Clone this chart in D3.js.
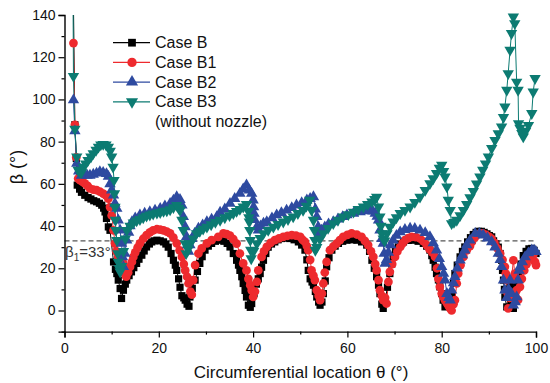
<!DOCTYPE html>
<html><head><meta charset="utf-8">
<script src="https://cdn.jsdelivr.net/npm/d3@7"></script>
<style>
html,body{margin:0;padding:0;background:#fff;}
text{font-family:"Liberation Sans",Arial,sans-serif;}
</style></head>
<body><svg id="c" width="550" height="383"></svg>
<script>
// ---- data ----
const thetaB=[1.9,2.2,2.5,2.7,3.2,3.6,4.3,5.0,5.6,6.2,6.8,7.4,7.9,8.3,8.6,8.9,9.3,9.65,10.4,10.8,11.1,11.4,11.8,12.1,12.5,12.9,13.2,13.7,14.2,14.7,15.3,15.8,16.4,16.9,17.4,18.0,18.5,19.0,19.6,20.3,21.0,21.5,22.0,22.6,23.1,23.5,23.8,24.2,24.5,24.9,25.3,25.6,26.0,26.4,26.6,27.1,27.7,28.2,28.7,29.2,29.8,30.5,31.2,32.0,33.0,33.8,34.5,35.1,35.8,36.5,36.9,37.2,37.6,37.9,38.3,38.6,39.0,39.4,39.7,40.2,40.7,41.1,41.5,41.8,42.2,42.7,43.2,43.9,44.6,45.3,46.0,46.9,47.8,48.7,49.6,50.3,51.0,51.4,51.7,52.1,52.5,52.8,53.2,53.5,53.9,54.2,54.6,54.9,55.3,55.6,56.1,56.7,57.4,58.1,59.0,59.9,61.0,62.0,63.0,64.1,64.7,65.2,65.7,66.2,66.6,66.9,67.3,67.6,68.0,68.5,69.0,69.4,69.7,70.2,70.8,71.3,71.9,72.9,74.0,75.0,76.1,76.8,77.5,77.9,78.2,78.6,78.9,79.3,79.6,80.0,80.3,80.7,81.1,81.5,81.8,82.1,82.5,82.8,83.3,83.9,84.4,84.9,85.5,86.1,86.7,87.3,87.8,88.4,89.0,89.6,90.1,90.6,91.0,91.5,92.0,92.4,92.7,92.9,93.1,93.3,93.4,93.8,94.2,94.5,94.8,95.2,95.6,95.9,96.3,96.8,97.3,97.9,98.5,99.1,99.6,100];
const betaB=[145,88,72,59.4,57.5,56,54.6,53.5,52.8,52,51.5,50.8,49.9,48.5,46.7,43.6,39.6,38,23,19.5,17.5,14.4,10.4,5.7,9.6,12.5,14.4,16.5,18.3,20.3,22.3,24.3,26.2,28.2,30.1,31.5,32.5,33,33.3,33,32.5,31.5,30,27,23.8,21.5,19,15,11,7,6,4.9,3,2,6.4,10.5,14.4,18.5,22.3,25.5,28.6,30.5,31.8,32.8,33.3,32.8,31.8,30.1,27,23.8,21.5,19,16,12.8,9.5,6.4,2.5,1.5,3.3,8,12.5,15,17.5,20.5,23.8,27,30,31.5,32.5,33.5,34.1,34.3,34.1,33.5,32.5,31,28.6,24,19,15,13.5,12,9,6.4,4,2.5,4,8,14,20.7,25,28.6,30.5,31.8,32.8,33.3,33.5,33.3,32.5,31,28,23.8,20,16,12,8,3,1,5,11,17.5,22,25.4,28,30.1,31.5,32.5,33.2,33.3,32.8,31.8,30.5,28.6,26,23.8,20.5,17.5,14.5,11.2,8,4.9,1.7,3,2,5,8,13,17.5,21.5,25.4,28,30.1,32.5,34.5,36,37,37.5,37.5,37,36.3,35.5,34.9,33,31.5,30,27,23.8,19,14.4,10,6.4,1.7,8,12,4,1,6,12,16,22,26,28,29.2,29.4,28.5,27];

const thetaB1=[1.9,2.2,2.5,2.9,3.3,3.8,4.3,4.9,5.4,6.1,6.8,7.5,8.2,8.8,9.3,9.65,10.0,10.4,10.7,11.0,11.4,11.9,12.5,12.8,13.1,13.5,13.9,14.3,14.6,15.0,15.5,16.0,16.7,17.4,18.1,18.8,19.6,20.3,21.0,21.7,22.4,23.1,23.8,24.4,24.9,25.3,25.6,26.0,26.3,26.7,27.0,27.3,27.7,28.4,29.1,30.2,31.2,32.6,33.7,34.4,35.1,35.8,36.5,37.2,37.9,38.6,39.0,39.4,39.7,40.0,40.4,40.8,41.1,41.8,42.3,42.9,43.7,44.6,45.5,46.4,47.3,48.2,49.1,50.0,50.5,51.0,51.4,51.7,52.1,52.4,52.8,53.1,53.5,53.9,54.2,54.6,54.9,55.2,55.6,56.3,57.0,57.7,58.4,59.1,60.0,60.9,62.0,63.0,63.7,64.4,65.0,65.5,65.9,66.2,66.6,66.9,67.3,67.6,68.0,68.3,68.7,69.0,69.5,70.1,70.6,71.2,71.7,72.2,72.9,73.6,74.5,75.4,76.1,76.8,77.4,78.0,78.6,79.0,79.3,79.6,80.0,80.3,80.7,81.1,81.5,81.8,82.1,82.5,82.8,83.2,83.5,84.0,84.6,85.3,86.0,86.4,87.0,87.5,88.1,88.7,89.4,90.0,90.6,91.2,91.8,92.4,92.9,93.4,93.6,93.8,94.0,94.1,94.5,94.8,95.2,95.5,95.9,96.2,96.6,97.0,97.5,98.0,98.6,99.1,99.4,99.8,100];
const betaB1=[126.7,88,72.5,62.5,61.7,61,60.2,59,57.8,57.3,57,56.3,55.4,54.5,53,49,45,38,31.7,28,25.4,23.5,22.3,17.5,16,18,20.7,23,25.4,27.5,29.8,31.8,34,35.7,37,38,38.5,38.3,38,37.4,36.5,34.5,31.8,28.5,25.4,22,19,16,12.8,9,7.5,14.4,21.5,27,29.4,31.8,33.3,34.9,36.5,36.2,35.5,33.8,31.7,27,22.3,19,15,12,9.6,6.4,9,13.6,19,25.4,28,30.1,32,33.3,34.2,34.9,35.4,35.7,35.5,34.9,33.5,32.5,30.5,28.6,24,19,16.5,14.4,9.6,7,4.9,8,12.8,18,23,28.6,30.3,31.7,33.3,34.9,35.8,36.5,36,34.9,33,31,28,25.4,22,19,14.4,9.6,7,4.9,6,3.3,13.6,18.3,22,25.4,28,30.1,31.8,33.3,34.3,34.9,34.8,34.1,32.8,31,29,27.5,25.4,20,15,11.2,8,6.5,4.9,3.5,2,1,0,3,4.9,12.8,17.5,21.5,25.4,28.5,30.5,32.5,34.5,35.8,36.5,36.5,35.8,35,34,32,29.5,27,24,20.7,17.5,14.4,8,1,6,15,23.8,17.5,9.6,5,11.2,15,19,22,24.5,25.8,26.2,23,21.5];

const thetaB2=[1.9,2.2,2.6,3.0,3.6,4.2,4.8,5.4,6.1,6.8,7.5,8.2,8.9,9.3,9.65,10.0,10.4,10.7,11.1,11.4,11.8,12.1,12.3,12.5,12.8,13.2,13.6,13.9,14.3,15.0,16.0,17.0,18.1,19.2,20.3,21.3,22.4,23.1,23.8,24.5,24.9,25.2,25.6,25.9,26.1,26.3,26.6,27.0,27.6,28.4,29.3,30.2,31.2,32.3,33.0,34.0,35.1,36.1,37.2,37.9,38.6,39.2,39.7,40.0,40.1,40.2,40.3,40.8,41.1,41.6,42.2,42.9,44.0,45.0,46.0,47.1,48.2,49.2,50.3,51.4,52.1,52.8,53.2,53.5,53.8,54.0,54.5,55.2,56.0,57.0,58.0,59.0,59.9,61.3,62.7,63.8,64.8,65.4,65.9,66.3,66.6,66.9,67.3,67.6,67.8,68.0,68.3,68.7,69.2,69.7,70.4,71.2,72.2,73.3,74.3,75.4,76.5,77.5,78.2,78.9,79.5,80.0,80.4,80.7,81.1,81.5,81.8,82.1,82.5,82.8,83.3,83.9,84.4,84.9,85.3,86.0,87.1,88.0,88.8,89.7,90.6,91.3,92.0,92.4,92.7,93.1,93.4,93.8,94.2,94.5,94.8,95.2,95.6,95.9,96.2,96.4,96.6,97.1,97.7,98.4,99.1,99.6,100];
const betaB2=[99.7,85,69.7,66,64,64.3,64,64,64.5,65,65.7,65.3,64.8,63.5,60,57,54.6,50.7,48.3,42.8,38,31.7,25.4,20.7,27,33.3,37,40,42,43.8,45.2,46,46.7,47.5,48.3,49.5,50.7,52.2,53.8,52.5,49.9,44.4,39.6,34.9,31,28,31,34,36.5,38.9,40.5,42,43.2,44.4,46.5,48,50.7,53,55.4,57.5,59.4,57,55.4,52.3,49,46,43,39.6,38,40,41.3,42,43.8,45.2,46.3,47.5,48.7,49.9,51,52.3,53,53.8,48,44.4,39.6,36.5,38,39.5,41,42,43.3,44.4,45.2,46,46.7,47.2,47.5,47,46,44.5,42.8,38,34,31.7,27,22.3,24,27.5,31,33.3,35.5,37.2,38.3,38.9,38.8,38,36.8,34.9,32,28.6,24.5,20.7,17.5,14.4,8,6,4.9,9.6,13,16,20,23.8,26.3,28.6,31,33.3,36.5,36.5,35.7,34.3,32.5,30,27,24,20.7,14.4,9.6,6,10,14.4,8,2.5,4,6.4,14.4,19,20.7,23,25.4,27.2,28.6,28.5,27.8];

const thetaB3=[1.8,1.9,2.2,2.6,2.9,3.3,3.6,4.0,4.5,5.0,5.6,6.1,6.7,7.2,7.7,8.2,8.8,9.3,9.7,10.0,10.3,10.5,10.6,10.7,10.8,10.9,11.1,11.3,11.4,11.6,11.8,12.1,12.5,12.9,13.2,13.9,14.6,15.3,16.0,16.7,17.4,18.1,18.8,19.6,20.3,21.0,21.7,22.4,23.1,23.8,24.2,24.5,24.9,25.2,25.6,25.8,26.2,26.6,27.3,28.0,28.7,29.4,30.2,31.1,32.0,33.0,34.0,35.0,35.8,36.5,37.2,37.9,38.6,39.0,39.1,39.2,39.3,39.4,39.5,39.6,40.1,40.8,41.5,42.2,43.2,44.3,45.3,46.4,47.4,48.5,49.5,50.6,51.3,52.0,52.4,52.8,53.0,53.1,53.2,53.5,54.2,54.9,55.9,57.0,58.0,59.1,60.2,61.3,62.3,63.4,64.3,65.2,65.8,66.2,66.6,66.9,67.1,67.3,67.6,67.9,68.4,69.0,69.7,70.4,71.2,72.2,73.3,74.3,75.4,76.5,77.5,78.2,78.9,79.5,80.0,80.4,80.7,81.1,81.4,81.8,82.1,82.6,83.2,83.9,84.6,85.3,86.0,86.7,87.4,88.1,88.7,89.3,89.9,90.6,91.3,92.0,92.7,93.1,93.4,93.8,94.1,94.5,94.8,95.2,95.5,95.9,96.2,96.3,96.6,97.0,97.3,97.8,98.4,99.1,99.4,99.8];
const betaB3=[152,111,86,72.8,66.5,65.5,65.5,68,69.5,71.2,72.8,74.4,76,77.5,78.5,78.8,78.5,77.5,75.5,72.8,68,61.7,55.4,49,42.8,38,33.3,27,23,20,18.3,21,28,34,38,40,41.5,42.5,43.2,44,44.8,45.3,45.8,46.2,46.5,47,47.3,47.8,48.8,49.9,48.5,47.5,42.8,38,31.7,27,29,31.7,34,36.5,37.6,38.6,39.6,40.7,41.8,42.8,44,45,46,47,48,49.1,50.3,47,44,42,38,33.3,28.6,24.6,28,31.7,34.2,36.5,38,39.6,40.8,42,43.2,44.4,46,47.5,49.5,52.3,47.5,42.8,38,33.3,28.6,30,34,36.5,39,41.2,42.8,44.4,45.5,46.7,47.9,49.1,50.3,51.5,52.7,53.8,49.1,44.4,40,36.5,34,33,36.5,39.6,42,44,46,47.5,49.1,51.3,53.8,57,60.2,62.5,65,67.5,68.9,66,63.3,58.6,52.3,47.5,41.2,41.8,42.8,45,47.5,50.3,53.5,56.5,60,63.3,66.5,69.5,72.8,76.8,80.7,83.8,87,91.5,96.5,104.4,112.3,123.4,131.3,139.1,136,108.3,104.4,88.6,86.5,84,82.3,85,87.8,93.4,103.6,110];

const seriesNames=["Case B","Case B1","Case B2","Case B3"];
const legendExtra="(without nozzle)";
const yTicks=[0,20,40,60,80,100,120,140];
const xTicks=[0,20,40,60,80,100];
const refBeta=33;

// ---- chart ----
const svg=d3.select("#c");
const x=d3.scaleLinear().domain([0,100]).range([64.5,536]);
const y=d3.scaleLinear().domain([-10,140]).range([331.6,15]);

const series=[
 {name:seriesNames[0],t:thetaB,b:betaB,color:"#000000",sym:d3.symbolSquare,size:52,rot:0},
 {name:seriesNames[1],t:thetaB1,b:betaB1,color:"#ee2a2e",sym:d3.symbolCircle,size:60,rot:0},
 {name:seriesNames[2],t:thetaB2,b:betaB2,color:"#2e4aa0",sym:d3.symbolTriangle,size:56,rot:0},
 {name:seriesNames[3],t:thetaB3,b:betaB3,color:"#0c7b72",sym:d3.symbolTriangle,size:56,rot:180}
];

svg.append("defs").append("clipPath").attr("id","clip").append("rect")
 .attr("x",64).attr("y",15).attr("width",474).attr("height",317);

// reference dashed line
svg.append("line").attr("x1",x(0)).attr("x2",x(100)).attr("y1",y(refBeta)).attr("y2",y(refBeta))
 .attr("stroke","#555").attr("stroke-width",1.3).attr("stroke-dasharray","5,3");

const line=d3.line().x(d=>x(d[0])).y(d=>y(d[1]));
const g=svg.append("g").attr("clip-path","url(#clip)");
series.forEach(s=>{
  const pts=s.t.map((t,i)=>[t,s.b[i]]);
  g.append("path").datum(pts).attr("d",line).attr("fill","none").attr("stroke",s.color).attr("stroke-width",1);
});
series.forEach(s=>{
  const pts=s.t.map((t,i)=>[t,s.b[i]]).filter(d=>d[1]<=140.5);
  const sym=d3.symbol().type(s.sym).size(s.size)();
  svg.append("g").selectAll("path").data(pts).join("path")
   .attr("d",sym).attr("fill",s.color)
   .attr("transform",d=>`translate(${x(d[0])},${y(d[1])}) rotate(${s.rot})`);
});

// axes
const yAxis=svg.append("g").attr("transform",`translate(${x(0)},0)`)
  .call(d3.axisLeft(y).tickValues(yTicks).tickSize(6).tickPadding(3).tickFormat(d3.format("d")));
const yMinor=svg.append("g").attr("transform",`translate(${x(0)},0)`)
  .call(d3.axisLeft(y).tickValues([-10,10,30,50,70,90,110,130]).tickSize(3).tickFormat(""));
const xAxis=svg.append("g").attr("transform",`translate(0,${y(-10)})`)
  .call(d3.axisBottom(x).tickValues(xTicks).tickSize(6).tickPadding(5).tickFormat(d3.format("d")));
const xMinor=svg.append("g").attr("transform",`translate(0,${y(-10)})`)
  .call(d3.axisBottom(x).tickValues([10,30,50,70,90]).tickSize(3).tickFormat(""));
[yAxis,yMinor,xAxis,xMinor].forEach(a=>{
  a.select(".domain").attr("stroke","#000").attr("stroke-width",1.4);
  a.selectAll(".tick line").attr("stroke","#000").attr("stroke-width",1.2);
  a.selectAll("text").attr("font-size",14).attr("fill","#111").style("font-family","Liberation Sans, Arial, sans-serif");
});
yMinor.select(".domain").remove(); xMinor.select(".domain").remove();

// titles
svg.append("text").attr("x",301).attr("y",378).attr("text-anchor","middle").attr("font-size",17).attr("fill","#111")
 .text("Circumferential location θ (°)");
svg.append("text").attr("transform","translate(23,167) rotate(-90)").attr("text-anchor","middle").attr("font-size",18).attr("fill","#111")
 .text("β (°)");

// annotation
const ann=svg.append("text").attr("x",65).attr("y",257).attr("font-size",15).attr("fill","#333");
ann.append("tspan").text("β");
ann.append("tspan").attr("font-size",10).attr("dy",4).text("1");
ann.append("tspan").attr("dy",-4).text("=33°");

// legend
const lg=svg.append("g");
series.forEach((s,i)=>{
  const yy=42.7+i*19.7;
  lg.append("line").attr("x1",113).attr("x2",150).attr("y1",yy).attr("y2",yy).attr("stroke",s.color).attr("stroke-width",1.2);
  lg.append("path").attr("d",d3.symbol().type(s.sym).size(s.size+8)()).attr("fill",s.color)
    .attr("transform",`translate(132,${yy}) rotate(${s.rot})`);
  lg.append("text").attr("x",155).attr("y",yy+5.5).attr("font-size",16).attr("fill","#111").text(s.name);
});
lg.append("text").attr("x",155).attr("y",42.7+4*19.7+5.5).attr("font-size",16).attr("fill","#111").text(legendExtra);
</script></body></html>
